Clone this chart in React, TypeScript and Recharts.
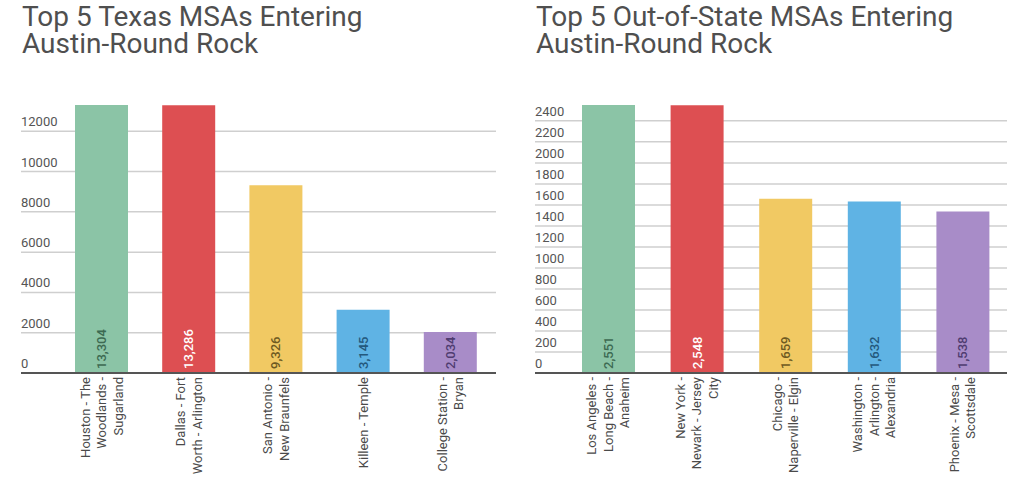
import React from "react";
import { BarChart, Bar, Cell, XAxis, YAxis, CartesianGrid, LabelList } from "recharts";

// Texas metro areas
const texasCategories = [
  "Houston - The Woodlands - Sugarland",
  "Dallas - Fort Worth - Arlington",
  "San Antonio - New Braunfels",
  "Killeen - Temple",
  "College Station - Bryan",
];
const texasLabelLines = [
  ["Houston - The", "Woodlands -", "Sugarland"],
  ["Dallas - Fort", "Worth - Arlington"],
  ["San Antonio -", "New Braunfels"],
  ["Killeen - Temple"],
  ["College Station -", "Bryan"],
];
const texasValues = [13304, 13286, 9326, 3145, 2034];
const texasTicks = [0, 2000, 4000, 6000, 8000, 10000, 12000];

// out-of-state metro areas
const outCategories = [
  "Los Angeles - Long Beach - Anaheim",
  "New York - Newark - Jersey City",
  "Chicago - Naperville - Elgin",
  "Washington - Arlington - Alexandria",
  "Phoenix - Mesa - Scottsdale",
];
const outLabelLines = [
  ["Los Angeles -", "Long Beach -", "Anaheim"],
  ["New York -", "Newark - Jersey", "City"],
  ["Chicago -", "Naperville - Elgin"],
  ["Washington -", "Arlington -", "Alexandria"],
  ["Phoenix - Mesa -", "Scottsdale"],
];
const outValues = [2551, 2548, 1659, 1632, 1538];
const outTicks = [0, 200, 400, 600, 800, 1000, 1200, 1400, 1600, 1800, 2000, 2200, 2400];

const barColors = ["#8bc4a6", "#dd4f52", "#f1c963", "#5fb3e4", "#a88cc8"];
const labelColors = ["#3d6a52", "#ffffff", "#6e5a22", "#24587c", "#4f3c70"];

const FONT = "Roboto, 'Noto Sans', sans-serif";

type ChartProps = {
  title: string[];
  categories: string[];
  labelLines: string[][];
  values: number[];
  ticks: number[];
  left: number;
  marginLeft: number;
  marginRight: number;
  padLeft: number;
  padRight: number;
};

const ValueTick = (props: any) => {
  const { x, y, payload } = props;
  return (
    <text x={x} y={y - 5} textAnchor="start" fill="#555" fontSize={13} fontFamily={FONT}>
      {payload.value}
    </text>
  );
};

const MsaChart = ({
  title,
  categories,
  labelLines,
  values,
  ticks,
  left,
  marginLeft,
  marginRight,
  padLeft,
  padRight,
}: ChartProps) => {
  const data = categories.map((name, i) => ({ name, value: values[i] }));

  const CategoryTick = (props: any) => {
    const { x, y, payload } = props;
    const rows = labelLines[categories.indexOf(payload.value)] || [payload.value];
    return (
      <g transform={`translate(${x},${y}) rotate(-90)`}>
        {rows.map((r, i) => (
          <text
            key={i}
            x={0}
            y={(i - (rows.length - 1) / 2) * 16.5}
            dy="0.35em"
            textAnchor="end"
            fill="#4a4a4a"
            fontSize={13}
            fontFamily={FONT}
          >
            {r}
          </text>
        ))}
      </g>
    );
  };

  return (
    <div style={{ position: "absolute", left, top: 0, width: 512, height: 483 }}>
      <div
        style={{
          position: "absolute",
          left: marginLeft + 1,
          top: 4,
          fontFamily: FONT,
          fontSize: 28,
          lineHeight: "26.5px",
          color: "#4f4f4f",
          whiteSpace: "nowrap",
        }}
      >
        {title.map((t, i) => (
          <div key={i}>{t}</div>
        ))}
      </div>
      <BarChart
        width={512}
        height={483}
        data={data}
        margin={{ top: 105, right: marginRight, left: marginLeft, bottom: 10 }}
      >
        <CartesianGrid
          vertical={false}
          horizontalValues={ticks}
          stroke="#cfcfcf"
          strokeWidth={1.5}
        />
        <XAxis
          dataKey="name"
          height={100}
          interval={0}
          padding={{ left: padLeft, right: padRight }}
          axisLine={{ stroke: "#555", strokeWidth: 2 }}
          tickLine={false}
          tickSize={0}
          tickMargin={4}
          tick={<CategoryTick />}
        />
        <YAxis
          type="number"
          domain={[0, "dataMax"]}
          ticks={ticks}
          interval={0}
          mirror
          axisLine={false}
          tickLine={false}
          tickSize={0}
          tickMargin={0}
          tick={<ValueTick />}
        />
        <Bar dataKey="value" barSize={53} isAnimationActive={false}>
          {data.map((d, i) => (
            <Cell key={d.name} fill={barColors[i]} />
          ))}
          <LabelList
            dataKey="value"
            content={(p: any) => {
              const { x, y, width, height, index, value } = p;
              const cx = Number(x) + Number(width) / 2;
              const by = Number(y) + Number(height) - 4;
              return (
                <text
                  transform={`translate(${cx},${by}) rotate(-90)`}
                  dy="0.35em"
                  textAnchor="start"
                  fill={labelColors[index]}
                  fontSize={13}
                  fontWeight={500}
                  fontFamily={FONT}
                >
                  {Number(value).toLocaleString("en-US")}
                </text>
              );
            }}
          />
        </Bar>
      </BarChart>
    </div>
  );
};

export default function App() {
  return (
    <div style={{ position: "absolute", left: 0, top: 0, width: 1024, height: 483, background: "#fff" }}>
      <MsaChart
        title={["Top 5 Texas MSAs Entering", "Austin-Round Rock"]}
        categories={texasCategories}
        labelLines={texasLabelLines}
        values={texasValues}
        ticks={texasTicks}
        left={0}
        marginLeft={21}
        marginRight={16}
        padLeft={37}
        padRight={2}
      />
      <MsaChart
        title={["Top 5 Out-of-State MSAs Entering", "Austin-Round Rock"]}
        categories={outCategories}
        labelLines={outLabelLines}
        values={outValues}
        ticks={outTicks}
        left={512}
        marginLeft={23}
        marginRight={17}
        padLeft={29}
        padRight={0}
      />
    </div>
  );
}
